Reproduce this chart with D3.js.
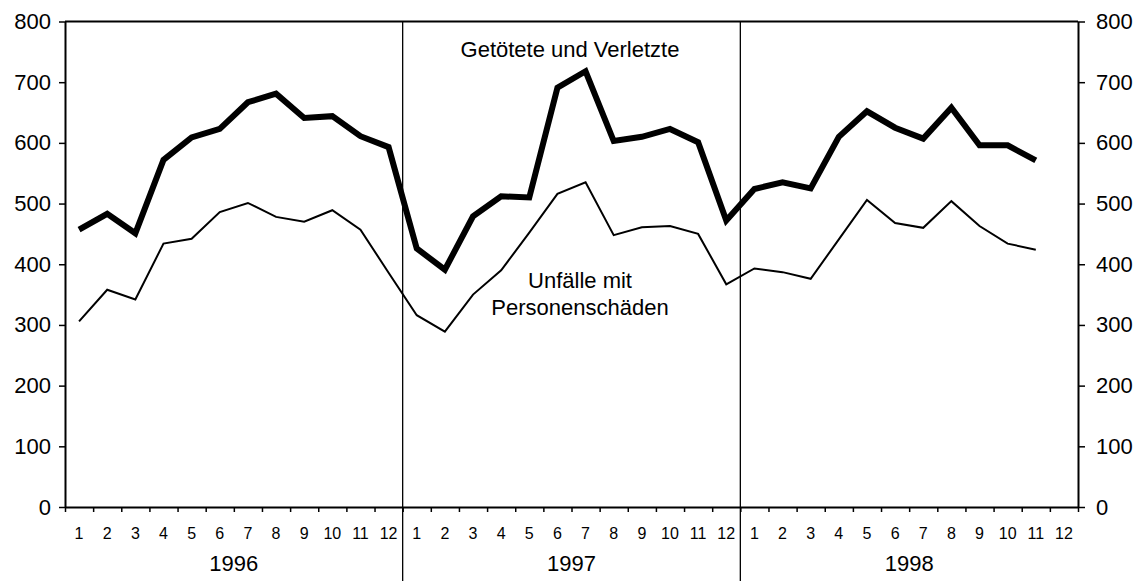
<!DOCTYPE html>
<html>
<head>
<meta charset="utf-8">
<script src="https://cdn.jsdelivr.net/npm/d3@7"></script>
<style>
  body { margin: 0; background: #fff; }
  svg { display: block; font-family: "Liberation Sans", Arial, sans-serif; }
  .axis path, .axis line { stroke: #000; }
  .axis text { fill: #000; }
</style>
</head>
<body>
<script>
//monthly values 1996-1998, last month of 1998 is missing
var years = ["1996", "1997", "1998"];
var monthLabels = ["1","2","3","4","5","6","7","8","9","10","11","12"];
var yTicks = [0, 100, 200, 300, 400, 500, 600, 700, 800];

var killedInjured = [457, 483, 451, 572, 609, 623, 667, 681, 641, 644, 611, 593,
                     426, 391, 479, 512, 510, 691, 718, 603, 610, 623, 601, 472,
                     524, 535, 525, 610, 652, 625, 607, 658, 596, 596, 571];
var accidents = [306, 358, 342, 434, 442, 486, 501, 478, 470, 489, 457, 386,
                 316, 289, 350, 390, 452, 516, 535, 448, 461, 463, 450, 367,
                 393, 387, 376, 441, 506, 468, 460, 504, 463, 434, 424];

var seriesLabels = {
    thick: ["Getötete und Verletzte"],
    thin: ["Unfälle mit", "Personenschäden"]
};

(function(){
    var width = 1142, height = 581;
    var left = 65, right = 1078, top = 21.5, bottom = 507;

    var svg = d3.select("body").append("svg")
        .attr("width", width)
        .attr("height", height);

    var nMonths = years.length * monthLabels.length;

    //linear scale in month units, point i sits in the middle of its slot
    var x = d3.scaleLinear().domain([0, nMonths]).range([left, right]);
    var y = d3.scaleLinear().domain([0, 800]).range([bottom, top]);

    //top frame line
    svg.append("line")
        .attr("x1", left).attr("x2", right)
        .attr("y1", top).attr("y2", top)
        .attr("stroke", "#000").attr("stroke-width", 2);

    //year separators, running down through the year labels
    svg.selectAll(".sep")
        .data(d3.range(1, years.length))
        .enter().append("line")
        .attr("class", "sep")
        .attr("x1", function(d){ return x(d * 12); })
        .attr("x2", function(d){ return x(d * 12); })
        .attr("y1", top).attr("y2", height)
        .attr("stroke", "#000").attr("stroke-width", 1.3);

    //left and right y axes
    svg.append("g")
        .attr("class", "axis")
        .attr("transform", "translate(" + left + ",0)")
        .call(d3.axisLeft(y).tickValues(yTicks).tickSize(6).tickSizeOuter(0).tickPadding(8));
    svg.append("g")
        .attr("class", "axis")
        .attr("transform", "translate(" + right + ",0)")
        .call(d3.axisRight(y).tickValues(yTicks).tickSize(7).tickSizeOuter(0).tickPadding(11));
    svg.selectAll(".axis").selectAll(".domain").attr("stroke-width", 2);
    svg.selectAll(".axis").selectAll(".tick line").attr("stroke-width", 1.5);
    svg.selectAll(".axis").selectAll("text").attr("font-size", 22).attr("font-family", "Liberation Sans, Arial, sans-serif");

    //x axis: ticks on month boundaries
    var xAxis = svg.append("g")
        .attr("class", "axis")
        .attr("transform", "translate(0," + bottom + ")")
        .call(d3.axisBottom(x).tickValues(d3.range(0, nMonths + 1)).tickSize(5).tickSizeOuter(0).tickFormat(""));
    xAxis.select(".domain").attr("stroke-width", 2);
    xAxis.selectAll(".tick line").attr("stroke-width", 1.5);

    //month labels in the middle of each slot
    var monthData = [];
    years.forEach(function(yr, yi){
        monthLabels.forEach(function(m, mi){
            monthData.push({ label: m, i: yi * 12 + mi });
        });
    });
    svg.selectAll(".month")
        .data(monthData)
        .enter().append("text")
        .attr("class", "month")
        .attr("x", function(d){ return x(d.i + 0.5); })
        .attr("y", 539)
        .attr("text-anchor", "middle")
        .attr("font-size", 16)
        .text(function(d){ return d.label; });

    svg.selectAll(".year")
        .data(years)
        .enter().append("text")
        .attr("class", "year")
        .attr("x", function(d, i){ return x(i * 12 + 6); })
        .attr("y", 571)
        .attr("text-anchor", "middle")
        .attr("font-size", 22)
        .text(function(d){ return d; });

    //lines
    var line = d3.line()
        .x(function(d, i){ return x(i + 0.5); })
        .y(function(d){ return y(d); });

    svg.append("path")
        .datum(accidents)
        .attr("fill", "none")
        .attr("stroke", "#000")
        .attr("stroke-width", 2)
        .attr("d", line);

    svg.append("path")
        .datum(killedInjured)
        .attr("fill", "none")
        .attr("stroke", "#000")
        .attr("stroke-width", 6)
        .attr("stroke-linejoin", "miter")
        .attr("d", line);

    //series labels
    svg.append("text")
        .attr("x", 570).attr("y", 57)
        .attr("text-anchor", "middle")
        .attr("font-size", 22)
        .text(seriesLabels.thick[0]);

    svg.selectAll(".thinLabel")
        .data(seriesLabels.thin)
        .enter().append("text")
        .attr("class", "thinLabel")
        .attr("x", 580)
        .attr("y", function(d, i){ return 288 + i * 27; })
        .attr("text-anchor", "middle")
        .attr("font-size", 22)
        .text(function(d){ return d; });
})();
</script>
</body>
</html>
